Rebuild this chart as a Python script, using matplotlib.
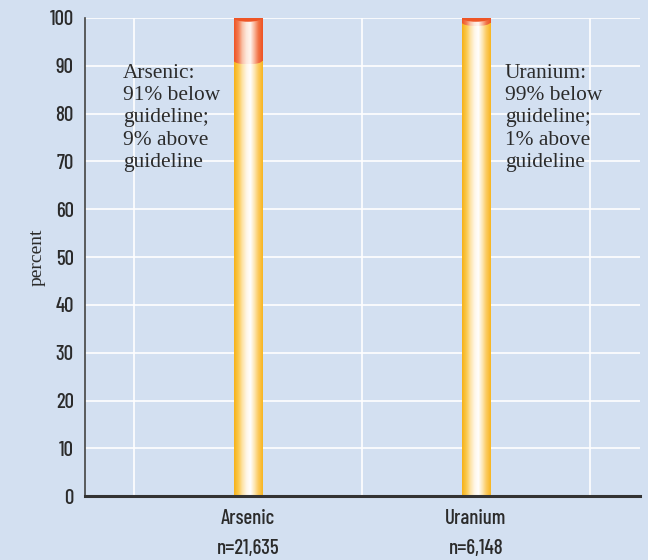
import numpy as np
import matplotlib
matplotlib.use('Agg')
import matplotlib.pyplot as plt
from matplotlib.patches import Ellipse
from matplotlib.colors import LinearSegmentedColormap
import matplotlib.transforms as mtransforms

# Data
elements = ['Arsenic', 'Uranium']
sample_sizes = ['n=21,635', 'n=6,148']
below = [91, 99]
above = [9, 1]
notes = ['Arsenic:\n91% below\nguideline;\n9% above\nguideline',
         'Uranium:\n99% below\nguideline;\n1% above\nguideline']

bg = '#d3e0f1'
txt = '#2b2b2b'
cond = ['Barlow Condensed', 'DejaVu Sans']
serif = ['Liberation Serif', 'DejaVu Serif']

yellow_cmap = LinearSegmentedColormap.from_list(
    'yel', ['#f6b21a', '#fbc84a', '#fde3a6', '#fff6e6', '#ffffff', '#fde6b0', '#fcc95a', '#f8b622'])
red_cmap = LinearSegmentedColormap.from_list(
    'red', ['#ef5526', '#f37a50', '#f9c2a8', '#fde8dc', '#fff4ee', '#f9b295', '#f17043', '#ee5424'])
grad = np.linspace(0, 1, 64).reshape(1, -1)

fig = plt.figure(figsize=(6.48, 5.6), dpi=100, facecolor=bg)
ax = fig.add_axes([0.131, 0.114, 0.857, 0.854], facecolor=bg)

x = np.arange(1, len(elements) + 1)
w = 0.123

bars_lo = ax.bar(x, below, width=w, color='none', edgecolor='none', zorder=3)
bars_hi = ax.bar(x, above, width=w, bottom=below, color='none', edgecolor='none', zorder=3)

for i in range(len(x)):
    x0, x1 = x[i] - w / 2, x[i] + w / 2
    im = ax.imshow(grad, cmap=yellow_cmap, extent=(x0, x1, 0, below[i]),
                   aspect='auto', zorder=3, interpolation='bilinear')
    im.set_clip_path(bars_lo[i])
    im2 = ax.imshow(grad, cmap=red_cmap, extent=(x0, x1, below[i], below[i] + above[i]),
                    aspect='auto', zorder=3, interpolation='bilinear')
    im2.set_clip_path(bars_hi[i])
    # curved lower edge of the red section
    e_mid = Ellipse((x[i], below[i]), width=w, height=1.4, facecolor='none', edgecolor='none', zorder=4)
    ax.add_patch(e_mid)
    im3 = ax.imshow(grad, cmap=red_cmap, extent=(x0, x1, below[i] - 0.7, below[i] + 0.7),
                    aspect='auto', zorder=4, interpolation='bilinear')
    im3.set_clip_path(e_mid)
    # top cap
    cap = Ellipse((x[i], below[i] + above[i]), width=w, height=1.6,
                  facecolor='#ee5526', edgecolor='none', zorder=5)
    ax.add_patch(cap)

note_x = [0.452, 2.127]
for i in range(len(x)):
    ax.text(note_x[i], 90.3, notes[i], ha='left', va='top',
            fontsize=15.4, family=serif, color=txt, linespacing=1.22, zorder=6)

ax.set_xlim(0.285, 2.72)
ax.set_ylim(0, 100)
ax.set_yticks(np.arange(0, 101, 10))
ax.set_xticks([0.5, 1.5, 2.5])
ax.set_xticklabels([])
ax.grid(True, color='white', linewidth=1.2, zorder=0)
ax.set_axisbelow(True)
ax.tick_params(axis='both', length=0, pad=8)
ax.tick_params(axis='y', labelsize=15, labelcolor=txt)
for lab in ax.get_yticklabels():
    lab.set_family(cond)
    lab.set_weight(500)

for s in ['top', 'right']:
    ax.spines[s].set_visible(False)
ax.spines['left'].set_color('#444444')
ax.spines['left'].set_linewidth(1.2)
ax.spines['bottom'].set_color('#333333')
ax.spines['bottom'].set_linewidth(2.2)
ax.spines['bottom'].set_zorder(7)

ax.set_ylabel('percent', fontsize=14, family=serif, color=txt)
ax.yaxis.set_label_coords(-0.07, 0.5)

trans = mtransforms.blended_transform_factory(ax.transData, fig.transFigure)
for i in range(len(x)):
    ax.text(x[i], 1 - 519 / 560, elements[i], transform=trans, ha='center', va='center',
            fontsize=15, family=cond, weight=500, color=txt)
    ax.text(x[i], 1 - 548 / 560, sample_sizes[i], transform=trans, ha='center', va='center',
            fontsize=15, family=cond, weight=500, color=txt)

fig.savefig('out.png', dpi=100, facecolor=bg)
